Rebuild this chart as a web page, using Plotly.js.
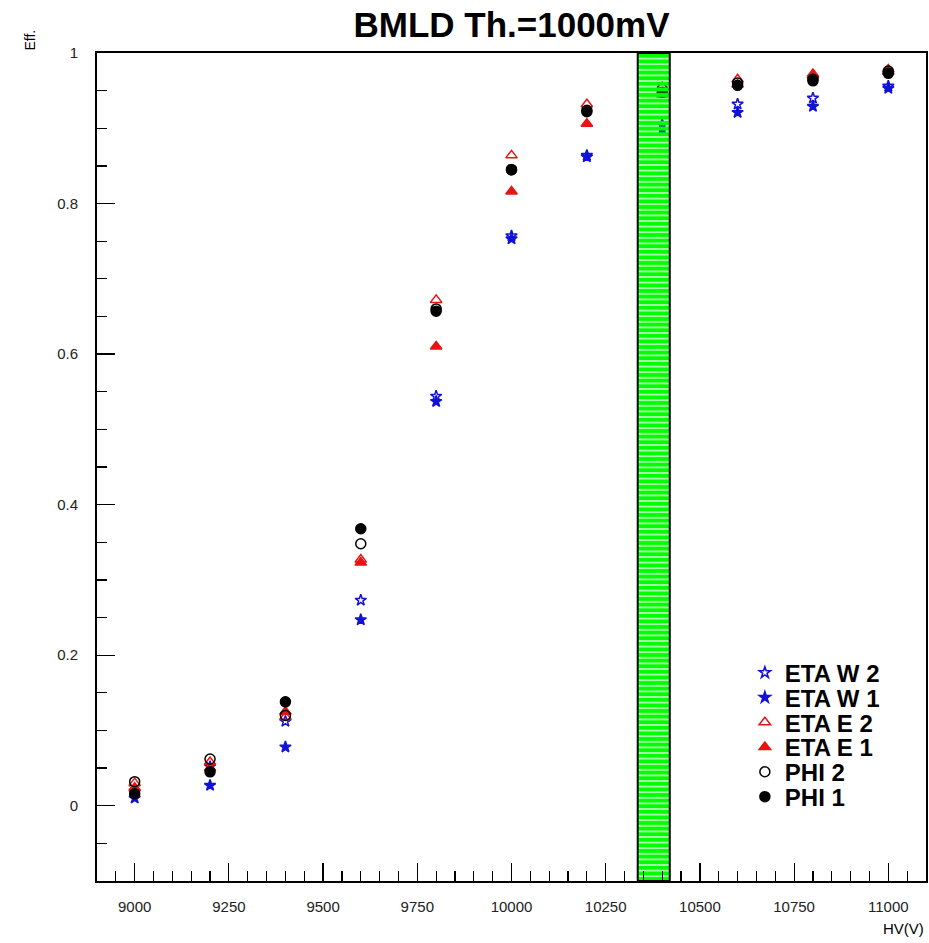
<!DOCTYPE html>
<html><head><meta charset="utf-8">
<script src="https://cdn.plot.ly/plotly-3.0.1.min.js"></script>
<style>html,body{margin:0;padding:0;background:#fff;}</style>
</head><body>
<div id="chart" style="width:929px;height:943px;"></div>
<script>
// ---- data ----
const hv    = [9000, 9200, 9400, 9600, 9800, 10000, 10200, 10400, 10600, 10800, 11000];
const etaW2 = [0.018, 0.052, 0.112, 0.273, 0.544, 0.757, 0.864, 0.905, 0.932, 0.940, 0.956];
const etaW1 = [0.010, 0.027, 0.078, 0.247, 0.537, 0.753, 0.862, 0.898, 0.921, 0.929, 0.953];
const etaE2 = [0.030, 0.058, 0.118, 0.327, 0.672, 0.864, 0.932, 0.955, 0.965, 0.972, 0.978];
const etaE1 = [0.024, 0.050, 0.125, 0.323, 0.610, 0.816, 0.906, 0.945, 0.958, 0.970, 0.975];
const phi2  = [0.032, 0.062, 0.120, 0.348, 0.660, 0.845, 0.924, 0.952, 0.960, 0.965, 0.976];
const phi1  = [0.016, 0.045, 0.138, 0.368, 0.657, 0.845, 0.922, 0.948, 0.957, 0.963, 0.973];
const seriesNames = ['ETA W 2', 'ETA W 1', 'ETA E 2', 'ETA E 1', 'PHI 2', 'PHI 1'];
const bandHV = [10335, 10420];     // shaded HV band
const effRange = [-0.1, 1.0];      // y extent of the band / axis
const hvRange = [8900, 11100];

const BLUE = '#1212d6', RED = '#e81414', BLACK = '#000000';
const FONT = 'Liberation Sans, Arial, Helvetica, sans-serif';

// one legend box per series so rows can sit tightly like the original
const legendRowsY = [0.2512, 0.2213, 0.1913, 0.1614, 0.1314, 0.1014];
const legendIds = ['legend', 'legend2', 'legend3', 'legend4', 'legend5', 'legend6'];

function pts(i, y, symbol, color, size) {
  return {
    type: 'scatter', mode: 'markers', x: hv, y: y, name: seriesNames[i],
    legend: legendIds[i],
    marker: {symbol: symbol, color: color, size: size,
             line: {color: color, width: 1.5}},
    hoverinfo: 'x+y+name'
  };
}

const traces = [
  pts(0, etaW2, 'star-open', BLUE, 8.5),
  pts(1, etaW1, 'star', BLUE, 8.5),
  pts(2, etaE2, 'triangle-up-open', RED, 10),
  pts(3, etaE1, 'triangle-up', RED, 10),
  pts(4, phi2,  'circle-open', BLACK, 10),
  pts(5, phi1,  'circle', BLACK, 10),
  {
    type: 'scatter', mode: 'lines', showlegend: false, hoverinfo: 'skip',
    x: [bandHV[0], bandHV[1], bandHV[1], bandHV[0], bandHV[0]],
    y: [effRange[0], effRange[0], effRange[1], effRange[1], effRange[0]],
    fill: 'toself', fillcolor: '#00ff00',
    fillpattern: {shape: '-', fillmode: 'replace', fgcolor: '#00ff00',
                  bgcolor: 'rgba(0,0,0,0)', size: 5.6, solidity: 0.78},
    line: {color: 'black', width: 2}
  }
];

const layout = {
  width: 929, height: 943,
  margin: {l: 97, r: 3, t: 53, b: 62},
  paper_bgcolor: 'white', plot_bgcolor: 'white',
  showlegend: true,
  title: {text: 'BMLD Th.=1000mV', font: {family: FONT, size: 35, color: 'black', weight: 'bold'},
          x: 0.5, xref: 'paper', xanchor: 'center', y: 0.9735, yref: 'container', yanchor: 'middle'},
  xaxis: {
    range: hvRange, tickmode: 'linear', tick0: 9000, dtick: 250,
    tickformat: 'd',
    ticks: 'inside', ticklen: 18, tickwidth: 1.2, tickcolor: 'black',
    minor: {dtick: 50, ticks: 'inside', ticklen: 10, tickwidth: 1.2, tickcolor: 'black', showgrid: false},
    showline: true, linecolor: 'black', linewidth: 2, mirror: true,
    showgrid: false, zeroline: false,
    tickfont: {family: FONT, size: 15, color: '#222'},
    ticklabelstandoff: 11
  },
  yaxis: {
    range: effRange, tickmode: 'linear', tick0: 0, dtick: 0.2,
    ticks: 'inside', ticklen: 18, tickwidth: 1.2, tickcolor: 'black',
    minor: {dtick: 0.05, ticks: 'inside', ticklen: 10, tickwidth: 1.2, tickcolor: 'black', showgrid: false},
    showline: true, linecolor: 'black', linewidth: 2, mirror: true,
    showgrid: false, zeroline: false,
    tickfont: {family: FONT, size: 15, color: '#222'},
    ticklabelstandoff: 14
  },
  annotations: [
    {text: 'HV(V)', xref: 'paper', yref: 'paper', x: 0.9725, y: -0.0568,
     xanchor: 'center', yanchor: 'middle', showarrow: false,
     font: {family: FONT, size: 15, color: 'black'}},
    {text: 'Eff.', xref: 'paper', yref: 'paper', x: -0.0808, y: 1.0150,
     xanchor: 'center', yanchor: 'middle', showarrow: false, textangle: -90,
     font: {family: FONT, size: 14, color: 'black'}}
  ]
};

legendIds.forEach(function (id, i) {
  layout[id] = {
    x: 0.7815, y: legendRowsY[i], xanchor: 'left', yanchor: 'middle',
    bgcolor: 'rgba(0,0,0,0)', borderwidth: 0,
    font: {family: FONT, size: 24, color: 'black', weight: 'bold'}
  };
});

Plotly.newPlot('chart', traces, layout, {displayModeBar: false, staticPlot: true});
</script>
</body></html>
